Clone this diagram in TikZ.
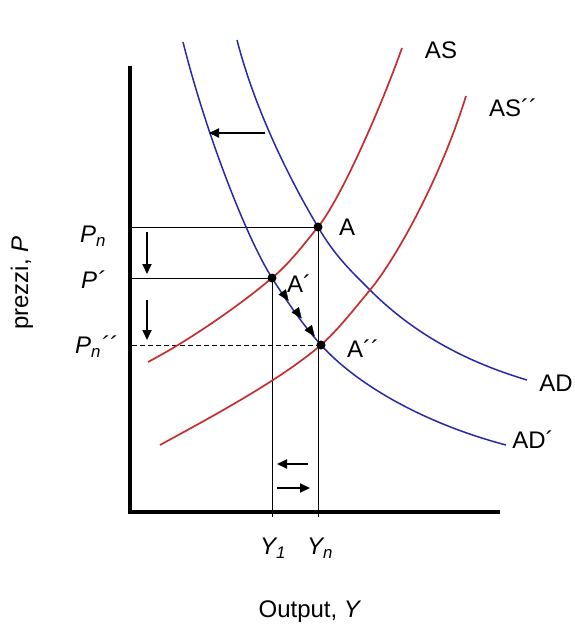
\documentclass[tikz,border=0pt]{standalone}
\usepackage{fontspec}
\setmainfont{Liberation Sans}
\usetikzlibrary{arrows.meta, decorations.markings}
\definecolor{adblue}{RGB}{40,40,170}
\definecolor{asred}{RGB}{200,45,45}

\begin{document}
\begin{tikzpicture}[
  x=1pt, y=-1pt,
  font=\fontsize{24}{28}\selectfont,
  adcurve/.style={draw=adblue, line width=1.5pt},
  ascurve/.style={draw=asred, line width=1.7pt},
  axisline/.style={line width=3.5pt},
  guide/.style={line width=0.8pt},
  movearrow/.style={line width=2pt, -{Triangle[length=10pt,width=9pt]}},
  dot/.style={circle, fill=black, inner sep=0pt, minimum size=9pt},
  lbl/.style={inner sep=0pt},
  slide/.style={decoration={markings,
    mark=at position 0.32 with {\arrow{Triangle[length=11pt,width=9pt]}},
    mark=at position 0.62 with {\arrow{Triangle[length=11pt,width=9pt]}},
    mark=at position 0.92 with {\arrow{Triangle[length=11pt,width=9pt]}}}, decorate}
]
\useasboundingbox (0,0) rectangle (574,634);

\coordinate (O) at (130,512);
\coordinate (top) at (130,66);
\coordinate (xend) at (500,512);
\coordinate (ybot) at (130,517);
\coordinate (pA) at (318,227);
\coordinate (pAp) at (272,278);
\coordinate (pApp) at (321,345);
\coordinate (cross) at (370,290);

\draw[guide] (pA) -- (pA -| O);
\draw[guide] (pAp) -- (pAp -| O);
\draw[guide, dash pattern=on 5pt off 3pt] (pApp) -- (pApp -| O);
\draw[guide] (pA) -- (pA |- ybot);
\draw[guide] (pAp) -- (pAp |- ybot);

\draw[adcurve] (237,40) .. controls (255,110) and (290,180) .. (pA)
  .. controls (335,256) and (350,270) .. (cross)
  .. controls (410,330) and (460,360) .. (527,380);
\draw[adcurve] (183,42) .. controls (205,130) and (245,235) .. (pAp)
  .. controls (288,303) and (303,325) .. (pApp)
  .. controls (360,388) and (430,425) .. (506,445);
\draw[ascurve] (148,362) .. controls (190,340) and (240,305) .. (pAp)
  .. controls (290,263) and (305,243) .. (pA)
  .. controls (340,200) and (380,110) .. (402,48);
\draw[ascurve] (160,445) .. controls (215,415) and (280,380) .. (pApp)
  .. controls (338,330) and (355,308) .. (cross)
  .. controls (395,260) and (440,180) .. (466,96);

\draw[axisline] (top) -- (O) -- (xend);

\node[dot] (A) at (pA) {};
\node[dot] (Ap) at (pAp) {};
\node[dot] (App) at (pApp) {};
\path[slide] (Ap) -- (App);

\coordinate (l1s) at (265,133);
\coordinate (l1e) at (209,133);
\coordinate (d1s) at (147,232);
\coordinate (d1e) at (147,274);
\coordinate (d2s) at (147,300);
\coordinate (d2e) at (147,340);
\coordinate (b1s) at (308,464);
\coordinate (b1e) at (277,464);
\coordinate (b2s) at (277,488);
\coordinate (b2e) at (310,488);
\draw[movearrow] (l1s) -- (l1e);
\draw[movearrow] (d1s) -- (d1e);
\draw[movearrow] (d2s) -- (d2e);
\draw[movearrow] (b1s) -- (b1e);
\draw[movearrow] (b2s) -- (b2e);

\node[lbl] (lPn) at (93,236) {\textit{P\textsubscript{n}}};
\node[lbl] (lPp) at (93,280) {\textit{P´}};
\node[lbl] (lPpp) at (96,347) {\textit{P\textsubscript{n}´´}};
\node[lbl] (lA) at (347,227) {A};
\node[lbl] (lAp) at (299,284) {A´};
\node[lbl] (lApp) at (363,349) {A´´};
\node[lbl] (las) at (441,50) {AS};
\node[lbl] (lasp) at (513,108) {AS´´};
\node[lbl] (lad) at (556,383) {AD};
\node[lbl] (ladp) at (533,440) {AD´};
\node[lbl] (lY1) at (273,548) {\textit{Y\textsubscript{1}}};
\node[lbl] (lYn) at (320,548) {\textit{Y\textsubscript{n}}};
\node[lbl] (lout) at (310,612) {Output, \textit{Y}};
\node[lbl, rotate=90] (lprice) at (22,283) {prezzi, \textit{P}};
\end{tikzpicture}
\end{document}
